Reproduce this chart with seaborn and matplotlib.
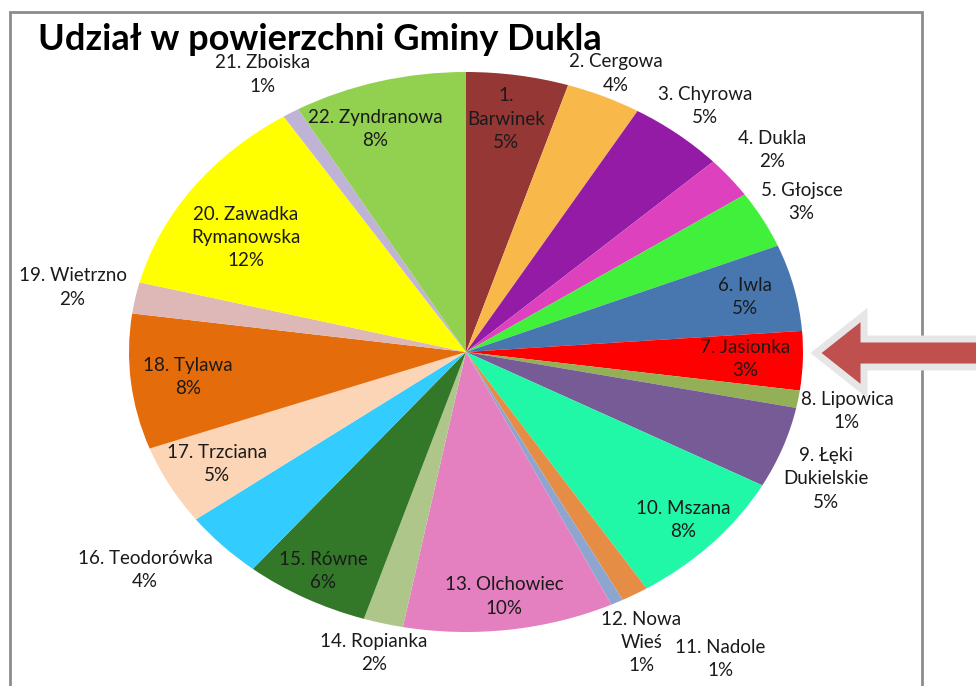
import numpy as np
import matplotlib
matplotlib.use('Agg')
import matplotlib.pyplot as plt
import matplotlib.patches as mpatches
import seaborn as sns

# Udział sołectw w powierzchni gminy (odczyt z wykresu, %)
names = ['1.\nBarwinek', '2. Cergowa', '3. Chyrowa', '4. Dukla', '5. Głojsce',
         '6. Iwla', '7. Jasionka', '8. Lipowica', '9. Łęki\nDukielskie', '10. Mszana',
         '11. Nadole', '12. Nowa\nWieś', '13. Olchowiec', '14. Ropianka', '15. Równe',
         '16. Teodorówka', '17. Trzciana', '18. Tylawa', '19. Wietrzno',
         '20. Zawadka\nRymanowska', '21. Zboiska', '22. Zyndranowa']
shares = [4.9, 3.6, 4.6, 2.4, 3.3, 5.0, 3.4, 1.0, 4.7, 8.1, 1.3, 0.6,
          10.1, 1.9, 6.0, 3.9, 4.6, 7.8, 1.8, 11.9, 0.8, 8.3]
colors = ['#953735', '#F9B84A', '#941BA6', '#DE41BD', '#40F03A', '#4877B0',
          '#FF0000', '#93B057', '#775B96', '#20F8A8', '#E68D45', '#8EA6CF',
          '#E47FC0', '#AFC68A', '#327828', '#33CCFF', '#FBD5B5', '#E46C0A',
          '#DDB8B6', '#FFFF00', '#C0B4D6', '#92D050']

# label distance from centre (fraction of radius), small angle nudges in degrees
label_r = [0.84, 1.09, 1.13, 1.16, 1.13, 0.85, 0.83, 1.15, 1.16, 0.88, 1.33,
           1.16, 0.88, 1.11, 0.89, 1.23, 0.84, 0.83, 1.19, 0.77, 1.16, 0.84]
label_nudge = {10: 4.5, 15: -4.5, 0: 0.7, 19: 3.8, 21: 3.8, 7: -0.9, 8: -3.0}

sns.set_theme(style='white')
plt.rcParams['font.family'] = ['Lato', 'DejaVu Sans']

W, H = 976, 686
fig = plt.figure(figsize=(W / 100, H / 100), dpi=100)

# outer chart frame
frame = mpatches.Rectangle((10 / W, -0.05), (922 - 10) / W, (H - 12) / H + 0.05,
                           transform=fig.transFigure, fill=False,
                           edgecolor='#8C8C8C', linewidth=2, clip_on=False)
fig.patches.append(frame)

cx, cy, rx, ry = 466, 352, 337, 280
ax = fig.add_axes([(cx - rx) / W, (H - cy - ry) / H, 2 * rx / W, 2 * ry / H])
wedges, _ = ax.pie(shares, colors=colors, startangle=90, counterclock=False,
                   radius=1, wedgeprops=dict(linewidth=0))
ax.set_aspect('auto')
ax.set_xlim(-1, 1)
ax.set_ylim(-1, 1)
ax.axis('off')

total = sum(shares)
for i, w in enumerate(wedges):
    ang = np.deg2rad((w.theta1 + w.theta2) / 2 + label_nudge.get(i, 0))
    r = label_r[i]
    pct = round(shares[i] / total * 100)
    ax.text(r * np.cos(ang), r * np.sin(ang), f'{names[i]}\n{pct}%',
            ha='center', va='center', fontsize=13.5, color='#1A1A1A',
            linespacing=1.45, clip_on=False)

fig.text(38 / W, 1 - 39 / H, 'Udział w powierzchni Gminy Dukla',
         fontsize=26, fontweight='bold', color='black', ha='left', va='center')

# block arrow pointing at Jasionka
arrow = mpatches.FancyArrow(1000 / W, 1 - 353 / H, -(1000 - 816) / W, 0,
                            width=28 / H, head_width=76 / H, head_length=48 / W,
                            length_includes_head=True, transform=fig.transFigure,
                            facecolor='#C0504D', edgecolor='#E6E6E6', linewidth=5,
                            clip_on=False)
fig.patches.append(arrow)

fig.savefig('out.png', dpi=100, facecolor='white')
